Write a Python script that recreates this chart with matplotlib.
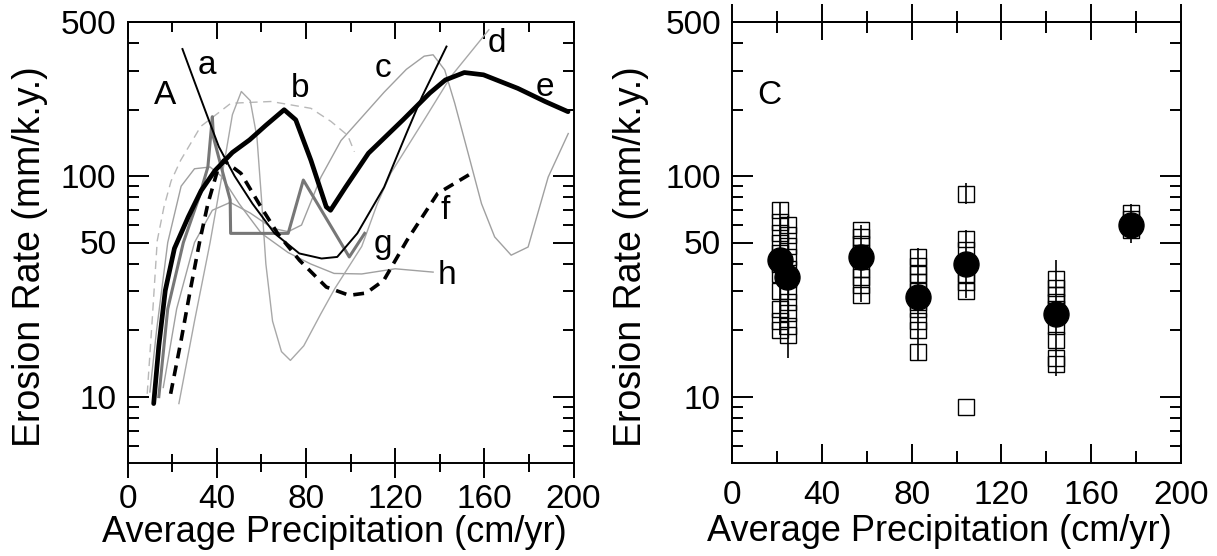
import matplotlib
matplotlib.use("Agg")
import matplotlib.pyplot as plt
from matplotlib.ticker import LogLocator, NullFormatter, MultipleLocator, FixedLocator

plt.rcParams['font.family'] = ['Liberation Sans', 'DejaVu Sans']

# ---------------- Panel A data ----------------
a_x = [24.6, 30, 35, 40.9, 48, 56, 65.9, 77, 87, 94, 103, 115, 125, 132, 143]
a_y = [377, 268, 196, 136, 100, 75, 55, 44.6, 42.3, 43, 55, 89, 156, 229, 387]

b_x = [8.8, 11, 13.3, 16.3, 19.5, 23.8, 32.8, 46.3, 64.3, 82.2, 91.2, 98.7, 101.7]
b_y = [10.3, 22, 51, 72.5, 95, 118, 168, 214, 218, 203, 177, 153, 129]

c_x = [16, 22, 30, 38, 46, 55, 65, 72, 78, 86.7, 95.7, 104, 115, 125, 133, 137,
       142.2, 146.7, 152.7, 158.7, 164.6, 172, 179.6, 188.6, 197.6]
c_y = [11, 25, 50, 70, 76, 68, 58, 56, 60, 99, 145, 180, 240, 305, 350, 355,
       303, 214, 127, 75, 53, 43.8, 47.7, 99, 156]

d_x = [23, 30, 37, 43, 47, 51, 55, 58, 60, 62, 65, 69, 73, 79, 86.7, 93, 100,
       105, 112, 118, 133, 145, 162]
d_y = [9.3, 22, 50, 110, 190, 242, 220, 150, 80, 40, 22, 16, 14.6, 17, 23.8, 31, 40,
       48, 75, 103, 180, 283, 461]

e_x = [11.7, 14, 16.9, 21, 27.2, 33, 39.2, 47, 54.7, 62, 70.2, 75.4, 82.2, 89.1, 91,
       97.7, 108, 123.5, 135.5, 142.5, 151, 159.6, 175, 187.2, 197.5]
e_y = [9.3, 17, 30.3, 47, 65.3, 86, 106, 128, 146, 170, 200, 180, 118, 72.5, 70,
       89, 127, 180, 238, 273, 295, 288, 250, 218, 196]

f_x = [19.3, 24, 28, 32.4, 36, 40.3, 43, 50.8, 59.8, 67.3, 77.1, 89.1, 99.4, 107,
       114.9, 125.2, 139, 155.3]
f_y = [10.3, 18, 30, 51, 75, 106, 118, 103, 72.5, 54.9, 41.5, 31.4, 28.8, 29.5,
       33.7, 51, 83.4, 104.6]

g_x = [14, 18, 25, 32, 36, 38, 38.5, 42, 46, 46.2, 67, 72, 78.8, 99.4, 106.3]
g_y = [10, 25, 50, 80, 110, 186, 150, 110, 78, 55, 55, 55, 96, 43, 55]

h_x = [10, 13, 18, 24, 30, 37, 42, 50, 60, 72, 82, 92.6, 105, 120, 137]
h_y = [10.5, 20, 50, 90, 108, 110, 100, 75, 55, 45, 40, 36.2, 36, 38, 36.7]

curve_labels = ['A', 'a', 'b', 'c', 'd', 'e', 'f', 'g', 'h']
label_x = [17, 35.4, 77.2, 114.6, 165.4, 187, 142.2, 114.6, 143]
label_y = [231, 316, 250, 309, 401, 251, 70, 49, 35.5]

# ---------------- Panel C data ----------------
mean_x = [21.3, 24.3, 57.6, 82.8, 104.3, 144.3, 177.6]
mean_y = [41.8, 34.8, 43, 28.3, 40.1, 23.8, 59.9]

sq_x_groups = [21.3, 25.0, 57.6, 82.8, 104.3, 144.3, 177.6]
sq_y_groups = [
    [70, 62, 55, 50, 45, 40, 36, 30, 25, 22, 20],
    [60, 54, 48, 43, 38, 34, 30, 27, 24, 21, 19],
    [57, 53, 49, 45, 42, 38, 35, 32, 29],
    [43, 39, 36, 33, 30, 27, 25, 22, 20, 16],
    [83, 52, 46, 40, 36, 33, 30, 9],
    [34, 31, 29, 27, 25, 21, 18, 15, 14],
    [68, 64, 60, 57],
]

ebar_x = [21.3, 25.0, 57.6, 82.8, 104.3, 104.3, 144.3, 177.6]
ebar_lo = [19, 15, 27, 14.6, 75, 28, 12.4, 49.6]
ebar_hi = [76, 66, 60, 47, 93, 57, 41.5, 75]

x_ticks = [0, 40, 80, 120, 160, 200]
y_ticks = [10, 50, 100, 500]
x_label = 'Average Precipitation (cm/yr)'
y_label = 'Erosion Rate (mm/k.y.)'

# ---------------- Figure ----------------
W, H = 1217, 556
fig = plt.figure(figsize=(W / 100, H / 100), dpi=100)
axA = fig.add_axes([127.6 / W, 93 / H, 446 / W, 441 / H])
axC = fig.add_axes([732 / W, 93 / H, 449 / W, 441 / H])

TICK_FS = 24
LAB_FS = 26


def style_axes(ax, bottom_dir, top_dir):
    ax.set_xlim(0, 200)
    ax.set_yscale('log')
    ax.set_ylim(5, 500)
    for s in ax.spines.values():
        s.set_linewidth(1.4)
    ax.set_xticks(x_ticks)
    ax.set_xticklabels([str(t) for t in x_ticks])
    ax.xaxis.set_minor_locator(MultipleLocator(20))
    ax.yaxis.set_major_locator(FixedLocator(y_ticks))
    ax.set_yticklabels([str(t) for t in y_ticks])
    ax.yaxis.set_minor_locator(LogLocator(subs=[2, 3, 4, 6, 7, 8, 9]))
    ax.yaxis.set_minor_formatter(NullFormatter())
    ax.tick_params(axis='y', which='both', left=True, right=True, direction='in',
                   width=1.4, labelsize=TICK_FS, pad=8)
    ax.tick_params(axis='y', which='major', length=15)
    ax.tick_params(axis='y', which='minor', length=8)
    blen = 22 if bottom_dir == 'inout' else 14
    xpad = 4 if bottom_dir == 'inout' else 12.5
    ax.tick_params(axis='x', which='both', bottom=True, top=False, direction=bottom_dir,
                   width=1.4, labelsize=TICK_FS, pad=xpad)
    ax.tick_params(axis='x', which='major', length=blen)
    ax.tick_params(axis='x', which='minor', length=blen * 0.6)
    sec = ax.secondary_xaxis('top')
    sec.set_xticks(x_ticks)
    sec.xaxis.set_minor_locator(MultipleLocator(20))
    sec.xaxis.set_major_formatter(NullFormatter())
    tlen = 26 if top_dir == 'inout' else 12
    sec.tick_params(axis='x', which='both', direction=top_dir, width=1.4)
    sec.tick_params(axis='x', which='major', length=tlen)
    sec.tick_params(axis='x', which='minor', length=tlen * 0.6)
    sec.spines['top'].set_linewidth(1.4)
    ax.set_xlabel(x_label, fontsize=LAB_FS)
    ax.set_ylabel(y_label, fontsize=27)


style_axes(axA, 'inout', 'in')
style_axes(axC, 'in', 'inout')
axA.xaxis.set_label_coords(0.463, -0.118)
axC.xaxis.set_label_coords(0.462, -0.116)
axA.yaxis.set_label_coords(-0.178, 0.467)
axC.yaxis.set_label_coords(-0.185, 0.467)

# ---- Panel A curves ----
axA.plot(b_x, b_y, color='#b8b8b8', lw=1.0, ls=(0, (6, 4)))
axA.plot(h_x, h_y, color='#a0a0a0', lw=1.0)
axA.plot(c_x, c_y, color='#a0a0a0', lw=1.0)
axA.plot(d_x, d_y, color='#a8a8a8', lw=1.0)
axA.plot(g_x, g_y, color='#777777', lw=2.2)
axA.plot(a_x, a_y, color='black', lw=1.4)
axA.plot(f_x, f_y, color='black', lw=2.6, ls=(0, (3, 2)))
axA.plot(e_x, e_y, color='black', lw=3.4, solid_capstyle='round')

for t, lx, ly in zip(curve_labels, label_x, label_y):
    axA.text(lx, ly, t, fontsize=24, ha='center', va='center')

# ---- Panel C ----
axC.vlines(ebar_x, ebar_lo, ebar_hi, color='black', lw=1.2, zorder=2)
for gx, gys in zip(sq_x_groups, sq_y_groups):
    axC.plot([gx] * len(gys), gys, ls='none', marker='s', markersize=11,
             mfc='none', mec='black', mew=1.0, zorder=3)
axC.plot(mean_x, mean_y, ls='none', marker='o', markersize=18, color='black', zorder=4)
axC.text(16.5, 233, 'C', fontsize=24, ha='center', va='center')

fig.savefig('out.png', dpi=100)
